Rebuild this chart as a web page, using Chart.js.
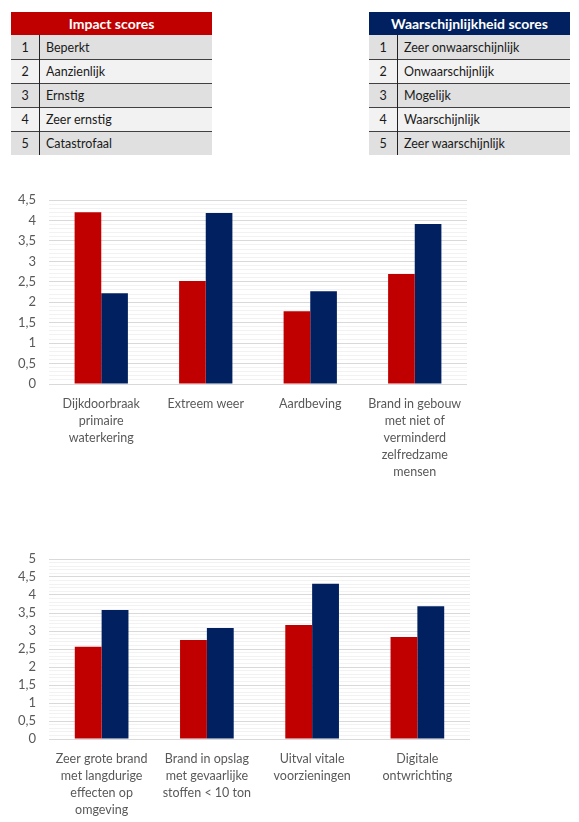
<!DOCTYPE html>
<html>
<head>
<meta charset="utf-8">
<script src="https://cdn.jsdelivr.net/npm/chart.js@4"></script>
<style>
  body { margin: 0; background: #fff; font-family: Lato, sans-serif; }
  .tbl { position: absolute; top: 12px; width: 201px; border-collapse: collapse; font-size: 12.5px; color: #1a1a1a; }
  .tbl th { height: 23px; padding: 0; color: #fff; font-size: 14px; font-weight: bold; text-align: center; }
  .tbl td { height: 23px; padding: 0 0 0 6px; border-top: 1px solid #404040; }
  .tbl tr:nth-child(2) td { border-top: none; height: 24px; }
  .tbl td.n { width: 28px; padding: 0; text-align: center; border-right: 1px solid #222; }
  .tbl tr:nth-child(even) td { background: #e0e0e0; }
  .tbl tr:nth-child(odd) td { background: #f2f2f2; }
  #impact { left: 11px; }
  #impact th { background: #c00000; }
  #kans { left: 369px; }
  #kans th { background: #002060; }
  .box { position: absolute; left: 0; }
</style>
</head>
<body>
<table class="tbl" id="impact"></table>
<table class="tbl" id="kans"></table>
<div class="box" style="top:190px;width:470px;height:300px"><canvas id="chart1"></canvas></div>
<div class="box" style="top:545px;width:473px;height:280px"><canvas id="chart2"></canvas></div>
<script>
const impactScores = ['Beperkt', 'Aanzienlijk', 'Ernstig', 'Zeer ernstig', 'Catastrofaal'];
const kansScores = ['Zeer onwaarschijnlijk', 'Onwaarschijnlijk', 'Mogelijk', 'Waarschijnlijk', 'Zeer waarschijnlijk'];

const categories1 = [
  ['Dijkdoorbraak', 'primaire', 'waterkering'],
  'Extreem weer',
  'Aardbeving',
  ['Brand in gebouw', 'met niet of', 'verminderd', 'zelfredzame', 'mensen']
];
const impact1 = [4.2, 2.52, 1.78, 2.69];
const kans1 = [2.22, 4.18, 2.27, 3.91];

const categories2 = [
  ['Zeer grote brand', 'met langdurige', 'effecten op', 'omgeving'],
  ['Brand in opslag', 'met gevaarlijke', 'stoffen < 10 ton'],
  ['Uitval vitale', 'voorzieningen'],
  ['Digitale', 'ontwrichting']
];
const impact2 = [2.56, 2.75, 3.17, 2.83];
const kans2 = [3.58, 3.08, 4.31, 3.69];

function fillTable(id, title, rows) {
  let html = '<tr><th colspan="2">' + title + '</th></tr>';
  rows.forEach((r, i) => {
    html += '<tr><td class="n">' + (i + 1) + '</td><td>' + r + '</td></tr>';
  });
  document.getElementById(id).innerHTML = html;
}
fillTable('impact', 'Impact scores', impactScores);
fillTable('kans', 'Waarschijnlijkheid scores', kansScores);

function isMajor(v) {
  return Math.round(v * 10) % 5 === 0;
}

function makeChart(id, labels, red, blue, yMax, padTop, xHeight) {
  new Chart(document.getElementById(id), {
    type: 'bar',
    data: {
      labels: labels,
      datasets: [
        { label: 'Impact', data: red, backgroundColor: '#c00000' },
        { label: 'Waarschijnlijkheid', data: blue, backgroundColor: '#002060' }
      ]
    },
    options: {
      responsive: true,
      maintainAspectRatio: false,
      animation: false,
      layout: { padding: { top: padTop, right: 3, left: 0, bottom: 0 } },
      plugins: { legend: { display: false }, tooltip: { enabled: false } },
      datasets: { bar: { categoryPercentage: 0.51, barPercentage: 1 } },
      scales: {
        x: {
          grid: { display: false },
          border: { display: false },
          ticks: {
            color: '#595959',
            font: { family: 'Lato', size: 12.5, lineHeight: 1.36 },
            padding: 3,
            maxRotation: 0,
            autoSkip: false
          },
          afterFit: s => { s.height = xHeight; }
        },
        y: {
          min: 0,
          max: yMax,
          border: { display: false },
          grid: {
            drawTicks: false,
            color: c => isMajor(c.tick.value) ? '#d9d9d9' : '#f2f2f2',
            lineWidth: 1
          },
          ticks: {
            stepSize: 0.1,
            maxTicksLimit: 100,
            autoSkip: false,
            padding: 13,
            color: '#595959',
            font: { family: 'Lato', size: 13 },
            callback: v => isMajor(v) ? String(Math.round(v * 10) / 10).replace('.', ',') : ''
          },
          afterFit: s => {
            s.width = 49;
            s.paddingTop = 0;
            s.paddingBottom = 0;
          }
        }
      }
    }
  });
}

makeChart('chart1', categories1, impact1, kans1, 4.5, 10, 106);
makeChart('chart2', categories2, impact2, kans2, 5, 14, 86);
</script>
</body>
</html>
